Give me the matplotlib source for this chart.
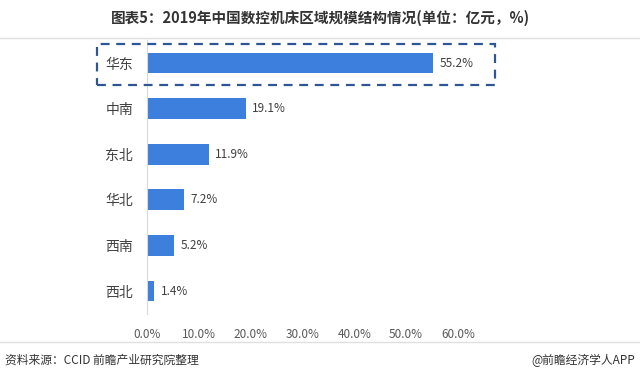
import matplotlib.pyplot as plt
from matplotlib.patches import Rectangle
from matplotlib.lines import Line2D

plt.rcParams['font.family'] = ['Noto Sans CJK SC', 'DejaVu Sans']

regions = ['华东', '中南', '东北', '华北', '西南', '西北']
shares = [55.2, 19.1, 11.9, 7.2, 5.2, 1.4]
xticks = [0, 10, 20, 30, 40, 50, 60]

fig = plt.figure(figsize=(6.4, 3.8), dpi=100)
ax = fig.add_axes([0.2297, 0.1742, 0.4859, 0.72])

ypos = list(range(len(regions)))
ax.barh(ypos, shares, height=0.46, color='#3D7FDC')
for y, v in zip(ypos, shares):
    ax.text(v + 1.2, y, '%.1f%%' % v, va='center', ha='left', fontsize=8.5, color='#404040')

ax.set_xlim(0, 60)
ax.set_ylim(5.5, -0.5)
ax.set_yticks(ypos)
ax.set_yticklabels(regions, fontsize=10, color='#404040')
ax.set_xticks(xticks)
ax.set_xticklabels(['%.1f%%' % t for t in xticks], fontsize=8.5, color='#595959')
ax.tick_params(axis='both', length=0)
ax.tick_params(axis='y', pad=10)
ax.tick_params(axis='x', pad=10)
for s in ['top', 'right', 'bottom']:
    ax.spines[s].set_visible(False)
ax.spines['left'].set_color('#d9d9d9')

# highlight box around the first bar
fig.patches.append(Rectangle((97 / 640, 1 - 85 / 380), 398 / 640, 41 / 380,
                             transform=fig.transFigure, fill=False,
                             edgecolor='#2F5597', linestyle=(0, (4, 3)), linewidth=1.6))

fig.text(0.5, 1 - 18 / 380, '图表5：2019年中国数控机床区域规模结构情况(单位：亿元，%)',
         ha='center', va='center', fontsize=10.5, fontweight='bold', color='#333333')
fig.add_artist(Line2D([0, 1], [1 - 38 / 380, 1 - 38 / 380], transform=fig.transFigure,
                      color='#e0e0e0', linewidth=1))
fig.add_artist(Line2D([0, 1], [1 - 342 / 380, 1 - 342 / 380], transform=fig.transFigure,
                      color='#e0e0e0', linewidth=1))
fig.text(5 / 640, 1 - 360 / 380, '资料来源：CCID 前瞻产业研究院整理', ha='left', va='center',
         fontsize=8.5, color='#333333')
fig.text(635 / 640, 1 - 360 / 380, '@前瞻经济学人APP', ha='right', va='center',
         fontsize=8.5, color='#333333')

fig.savefig('out.png', dpi=100, facecolor='white')
